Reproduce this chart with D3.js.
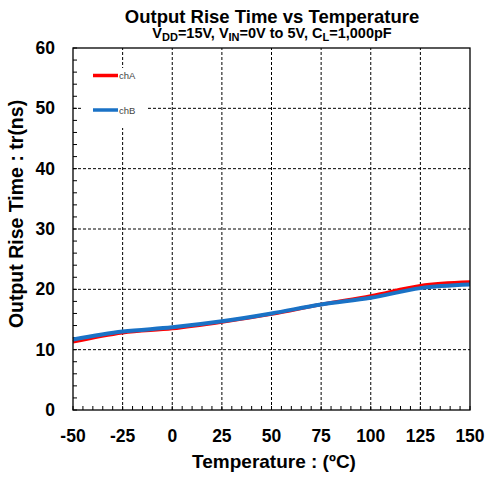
<!DOCTYPE html>
<html>
<head>
<meta charset="utf-8">
<script src="https://cdn.jsdelivr.net/npm/d3@7"></script>
<style>
  body { margin: 0; background: #fff; }
  svg { display: block; font-family: "Liberation Sans", Arial, sans-serif; }
</style>
</head>
<body>
<div id="chart"></div>
<script>
const temps = [-50, -25, 0, 25, 50, 75, 100, 125, 150];
const chA = [11.3, 12.8, 13.5, 14.6, 15.9, 17.5, 18.9, 20.6, 21.2];
const chB = [11.7, 13.0, 13.7, 14.7, 16.0, 17.5, 18.6, 20.2, 20.8];
const xTicks = [-50, -25, 0, 25, 50, 75, 100, 125, 150];
const yTicks = [0, 10, 20, 30, 40, 50, 60];

const width = 488;
const height = 478;
const margin = { top: 48, right: 18, bottom: 68, left: 73 };

const x = d3.scaleLinear().domain([-50, 150]).range([margin.left, width - margin.right]);
const y = d3.scaleLinear().domain([0, 60]).range([height - margin.bottom, margin.top]);

const svg = d3.select("#chart").append("svg")
  .attr("width", width)
  .attr("height", height);

// grid
svg.append("g")
  .selectAll("line")
  .data(xTicks.slice(1, -1))
  .join("line")
  .attr("x1", d => x(d)).attr("x2", d => x(d))
  .attr("y1", y(0)).attr("y2", y(60))
  .attr("stroke", "#000").attr("stroke-width", 1)
  .attr("stroke-dasharray", "3,2");

svg.append("g")
  .selectAll("line")
  .data(yTicks.slice(1, -1))
  .join("line")
  .attr("x1", x(-50)).attr("x2", x(150))
  .attr("y1", d => y(d)).attr("y2", d => y(d))
  .attr("stroke", "#000").attr("stroke-width", 1)
  .attr("stroke-dasharray", "3,2");

// minor ticks (inside)
svg.append("g")
  .selectAll("line")
  .data(d3.range(-50, 151, 5))
  .join("line")
  .attr("x1", d => x(d)).attr("x2", d => x(d))
  .attr("y1", y(0)).attr("y2", y(0) - 4)
  .attr("stroke", "#000");

svg.append("g")
  .selectAll("line")
  .data(d3.range(0, 61, 2))
  .join("line")
  .attr("x1", x(-50)).attr("x2", x(-50) + 4)
  .attr("y1", d => y(d)).attr("y2", d => y(d))
  .attr("stroke", "#000");

// legend background
svg.append("rect")
  .attr("x", 83).attr("y", 68)
  .attr("width", 64).attr("height", 60)
  .attr("fill", "#fff");

// lines
const line = (vals) => d3.line()
  .x((d, i) => x(temps[i]))
  .y(d => y(d))
  .curve(d3.curveMonotoneX)(vals);

svg.append("path")
  .attr("d", line(chA))
  .attr("fill", "none")
  .attr("stroke", "#ff0000")
  .attr("stroke-width", 3.5);

svg.append("path")
  .attr("d", line(chB))
  .attr("fill", "none")
  .attr("stroke", "#1a72c6")
  .attr("stroke-width", 4);

// frame
svg.append("rect")
  .attr("x", x(-50)).attr("y", y(60))
  .attr("width", x(150) - x(-50)).attr("height", y(0) - y(60))
  .attr("fill", "none")
  .attr("stroke", "#000").attr("stroke-width", 1.3);

// legend
const legend = [
  { name: "chA", color: "#ff0000", yy: 75.5 },
  { name: "chB", color: "#1a72c6", yy: 110 }
];
legend.forEach(l => {
  svg.append("line")
    .attr("x1", 93).attr("x2", 118)
    .attr("y1", l.yy).attr("y2", l.yy)
    .attr("stroke", l.color).attr("stroke-width", 3.5);
  svg.append("text")
    .attr("x", 119).attr("y", l.yy + 3.5)
    .attr("font-size", 9.5)
    .attr("fill", "#444")
    .text(l.name);
});

// tick labels
svg.append("g")
  .selectAll("text")
  .data(xTicks)
  .join("text")
  .attr("x", d => x(d))
  .attr("y", 441.5)
  .attr("text-anchor", "middle")
  .attr("font-size", 17.5).attr("font-weight", "bold")
  .text(d => d);

svg.append("g")
  .selectAll("text")
  .data(yTicks)
  .join("text")
  .attr("x", 55)
  .attr("y", d => y(d) + 6)
  .attr("text-anchor", "end")
  .attr("font-size", 17.5).attr("font-weight", "bold")
  .text(d => d);

// titles
svg.append("text")
  .attr("x", 272).attr("y", 22.5)
  .attr("text-anchor", "middle")
  .attr("font-size", 18.5).attr("font-weight", "bold")
  .text("Output Rise Time vs Temperature");

const sub = svg.append("text")
  .attr("x", 272).attr("y", 38)
  .attr("text-anchor", "middle")
  .attr("font-size", 14.5).attr("font-weight", "bold");
sub.append("tspan").text("V");
sub.append("tspan").attr("font-size", 11).attr("dy", 2.5).text("DD");
sub.append("tspan").attr("dy", -2.5).text("=15V, V");
sub.append("tspan").attr("font-size", 11).attr("dy", 2.5).text("IN");
sub.append("tspan").attr("dy", -2.5).text("=0V to 5V, C");
sub.append("tspan").attr("font-size", 11).attr("dy", 2.5).text("L");
sub.append("tspan").attr("dy", -2.5).text("=1,000pF");

svg.append("text")
  .attr("x", 274).attr("y", 467.5)
  .attr("text-anchor", "middle")
  .attr("font-size", 19).attr("font-weight", "bold")
  .text("Temperature : (ºC)");

svg.append("text")
  .attr("transform", "translate(23,214) rotate(-90)")
  .attr("text-anchor", "middle")
  .attr("font-size", 19.5).attr("font-weight", "bold")
  .text("Output Rise Time : tr(ns)");
</script>
</body>
</html>
